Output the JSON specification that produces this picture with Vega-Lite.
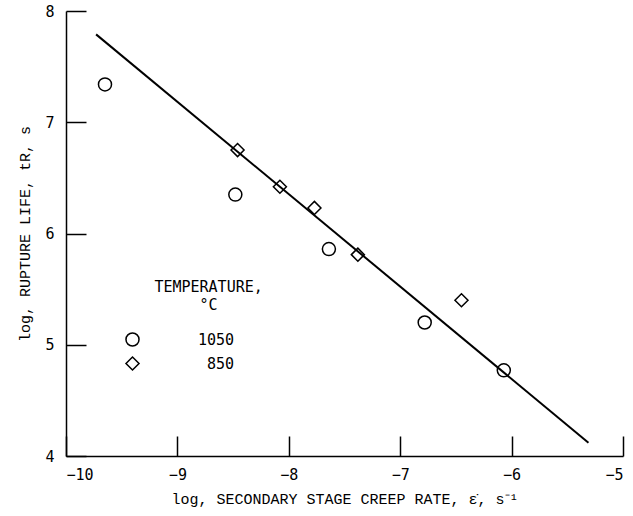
{
  "$schema": "https://vega.github.io/schema/vega-lite/v6.json",
  "width": 557,
  "height": 445,
  "autosize": "none",
  "padding": {"left": 66, "top": 11, "right": 10, "bottom": 60},
  "background": "white",
  "config": {
    "view": {"stroke": null},
    "font": "DejaVu Sans Mono",
    "axis": {
      "grid": false,
      "domainColor": "black",
      "domainWidth": 1.5,
      "tickColor": "black",
      "tickWidth": 1.5,
      "tickSize": -20,
      "labelFont": "DejaVu Sans Mono",
      "labelFontSize": 15,
      "labelColor": "black",
      "titleFont": "Liberation Mono",
      "titleFontSize": 15,
      "titleFontWeight": "normal",
      "titleColor": "black"
    }
  },
  "layer": [
    {
      "data": {"values": [{"x": -9.73, "y": 7.79}, {"x": -5.31, "y": 4.12}]},
      "mark": {"type": "line", "color": "black", "strokeWidth": 2},
      "encoding": {
        "x": {
          "field": "x", "type": "quantitative",
          "scale": {"domain": [-10, -5], "nice": false, "zero": false},
          "axis": {"values": [-10, -9, -8, -7, -6, -5], "format": "d", "title": "log, SECONDARY STAGE CREEP RATE, ε̇, s⁻¹", "labelPadding": 31, "titlePadding": 9}
        },
        "y": {
          "field": "y", "type": "quantitative",
          "scale": {"domain": [4, 8], "nice": false, "zero": false},
          "axis": {"values": [4, 5, 6, 7, 8], "format": "d", "title": "log, RUPTURE LIFE, tR, s", "labelPadding": 32, "titlePadding": 12}
        }
      }
    },
    {
      "data": {"values": [{"label": "legend title"}]},
      "mark": {"type": "text", "font": "DejaVu Sans Mono", "fontSize": 15, "color": "black", "align": "center", "baseline": "top", "lineHeight": 18},
      "encoding": {
        "x": {"datum": -8.72, "type": "quantitative"},
        "y": {"datum": 5.58, "type": "quantitative"},
        "text": {"value": ["TEMPERATURE,", "°C"]}
      }
    },
    {
      "data": {"values": [
        {"x": -9.65, "y": 7.34, "temp": "1050"},
        {"x": -8.48, "y": 6.35, "temp": "1050"},
        {"x": -7.64, "y": 5.86, "temp": "1050"},
        {"x": -6.78, "y": 5.2, "temp": "1050"},
        {"x": -6.07, "y": 4.77, "temp": "1050"},
        {"x": -8.46, "y": 6.75, "temp": "850"},
        {"x": -8.08, "y": 6.42, "temp": "850"},
        {"x": -7.77, "y": 6.23, "temp": "850"},
        {"x": -7.38, "y": 5.81, "temp": "850"},
        {"x": -6.45, "y": 5.4, "temp": "850"}
      ]},
      "mark": {"type": "point", "filled": false, "stroke": "black", "strokeWidth": 1.5, "size": 170, "opacity": 1},
      "encoding": {
        "x": {"field": "x", "type": "quantitative"},
        "y": {"field": "y", "type": "quantitative"},
        "shape": {
          "field": "temp", "type": "nominal",
          "scale": {"domain": ["1050", "850"], "range": ["circle", "diamond"]},
          "legend": {
            "orient": "none",
            "legendX": 59,
            "legendY": 321,
            "padding": 0,
            "title": null,
            "labelFont": "DejaVu Sans Mono",
            "labelFontSize": 15,
            "labelColor": "black",
            "labelAlign": "right",
            "labelOffset": 94,
            "symbolSize": 170,
            "symbolStrokeColor": "black",
            "symbolStrokeWidth": 1.5,
            "symbolFillColor": "white",
            "rowPadding": 3
          }
        }
      }
    }
  ]
}
